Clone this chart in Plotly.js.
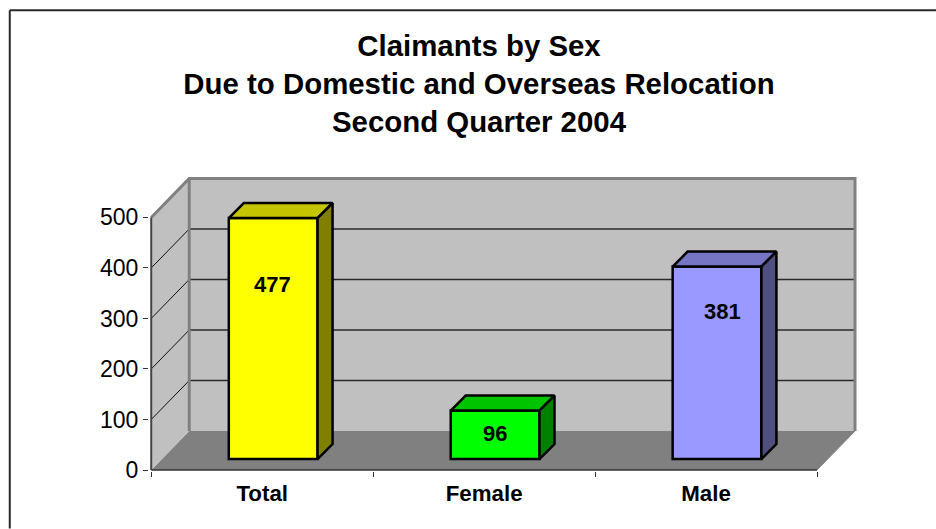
<!DOCTYPE html>
<html>
<head>
<meta charset="utf-8">
<script src="https://cdn.plot.ly/plotly-3.0.1.min.js"></script>
<style>html,body{margin:0;padding:0;background:#fff;overflow:hidden}#chart{width:936px;height:529px}</style>
</head>
<body>
<div id="chart"></div>
<script>
var categories = ["Total", "Female", "Male"];
var claimants = [477, 96, 381];
var frontColors = ["#ffff00", "#00ff00", "#9999ff"];
var topColors = ["#c4c400", "#00c400", "#7575c4"];
var sideColors = ["#808000", "#008000", "#4f4f80"];
var yTicks = [0, 100, 200, 300, 400, 500];
var titleLines = ["Claimants by Sex", "Due to Domestic and Overseas Relocation", "Second Quarter 2004"];
var labelHeights = [368, 72, 313];
var labelShifts = [0.548, 0.55, 0.574];

var W = 936, H = 529;
var PX_X = 222, PX_Y = 0.506;          // pixels per axis unit
var L = 151, R = 858, B = 470.5, T = 177;
var wallDX = 38 / PX_X, wallDY = 39 / PX_Y;
var insetDX = 11 / PX_X, insetDY = 11 / PX_Y;
var barDX = 15 / PX_X, barDY = 15 / PX_Y;
var barWidth = 0.4;
var yMax = yTicks[yTicks.length - 1], nCat = categories.length;
var FONT = "Liberation Sans, Arial, sans-serif";

function poly(pts, fill, line, w) {
  return {type: "path", xref: "x", yref: "y", layer: "below",
    path: "M" + pts.map(function (p) { return p[0] + "," + p[1]; }).join("L") + (fill ? "Z" : ""),
    fillcolor: fill || "rgba(0,0,0,0)", line: {color: line || "rgba(0,0,0,0)", width: w || 0}};
}
var shapes = [
  poly([[0, 0], [wallDX, wallDY], [nCat + wallDX, wallDY], [nCat, 0]], "#808080"),
  poly([[0, 0], [wallDX, wallDY], [wallDX, yMax + wallDY], [0, yMax]], "#c0c0c0"),
  poly([[wallDX, wallDY], [nCat + wallDX, wallDY], [nCat + wallDX, yMax + wallDY], [wallDX, yMax + wallDY]], "#c0c0c0")
];
yTicks.slice(1, -1).forEach(function (v) {
  shapes.push(poly([[wallDX, v + wallDY], [nCat + wallDX, v + wallDY]], null, "#2a2a2a", 1.4));
  shapes.push(poly([[0, v], [wallDX, v + wallDY]], null, "#111111", 1));
});
shapes.push(poly([[0, yMax], [wallDX, yMax + wallDY], [nCat + wallDX, yMax + wallDY], [nCat + wallDX, wallDY]], null, "#808080", 3));
shapes.push(poly([[wallDX, wallDY], [wallDX, yMax + wallDY]], null, "#808080", 3));
shapes.push(poly([[nCat, 0], [nCat + wallDX, wallDY]], null, "#808080", 1));
shapes.push(poly([[0, 0], [0, yMax]], null, "#444444", 2));
shapes.push(poly([[0, 0], [nCat, 0]], null, "#333333", 1.5));

var xRange = [(L - 151) / PX_X - 0.01, (R - 151) / PX_X];
var plotLeft = 151 + xRange[0] * PX_X;
function paperX(px) { return (px - plotLeft) / (R - plotLeft); }
function paperY(py) { return (B + 1 - py) / (B + 1 - T); }
// outer chart frame
[[9.5, 10, 936, 10], [9.5, 10, 9.5, 529]].forEach(function (s) {
  shapes.push({type: "line", xref: "paper", yref: "paper", x0: paperX(s[0]), y0: paperY(s[1]), x1: paperX(s[2]), y1: paperY(s[3]),
    line: {color: "#2a2a2a", width: 2}});
});

var centers = categories.map(function (c, i) { return i + 0.5 + insetDX; });
var traces = [{
  type: "bar", x: centers, y: claimants, base: insetDY, width: barWidth,
  marker: {color: frontColors, line: {color: "#000000", width: 2.5}},
  hoverinfo: "skip", showlegend: false
}];
claimants.forEach(function (v, i) {
  var x0 = centers[i] - barWidth / 2, x1 = centers[i] + barWidth / 2, y0 = insetDY, y1 = insetDY + v;
  traces.push({type: "scatter", mode: "lines", fill: "toself", fillcolor: topColors[i],
    x: [x0, x0 + barDX, x1 + barDX, x1, x0], y: [y1, y1 + barDY, y1 + barDY, y1, y1],
    line: {color: "#000000", width: 2.5}, hoverinfo: "skip", showlegend: false, cliponaxis: false});
  traces.push({type: "scatter", mode: "lines", fill: "toself", fillcolor: sideColors[i],
    x: [x1, x1 + barDX, x1 + barDX, x1, x1], y: [y0, y0 + barDY, y1 + barDY, y1, y0],
    line: {color: "#000000", width: 2.5}, hoverinfo: "skip", showlegend: false, cliponaxis: false});
});

var annotations = claimants.map(function (v, i) {
  return {x: i + labelShifts[i], y: labelHeights[i], xref: "x", yref: "y", showarrow: false,
    font: {family: FONT, size: 22, color: "#000"}, xanchor: "center", yanchor: "middle",
    text: "<b>" + v + "</b>"};
});

var layout = {
  width: W, height: H, autosize: false,
  paper_bgcolor: "#ffffff", plot_bgcolor: "#ffffff",
  margin: {l: plotLeft, r: W - R, t: T, b: H - B - 1, pad: 0},
  showlegend: false,
  title: {text: "<b>" + titleLines.join("<br>") + "</b>", x: 479 / W, xanchor: "center", y: 1 - 56 / H, yanchor: "top",
    font: {family: FONT, size: 29.4, color: "#000"}},
  xaxis: {range: xRange, showgrid: false, zeroline: false, showline: false,
    tickmode: "array", tickvals: categories.map(function (c, i) { return i + 0.5; }), ticktext: categories.map(function (c) { return "<b>" + c + "</b>"; }),
    ticks: "", ticklen: 0, ticklabelstandoff: 7, tickfont: {family: FONT, size: 22.3, color: "#000"},
    minor: {tickmode: "array", tickvals: [0, 1, 2, 3], ticks: "outside", ticklen: 5, tickwidth: 1, tickcolor: "#333333", showgrid: false}},
  yaxis: {range: [-1 / PX_Y, (B - T) / PX_Y], showgrid: false, zeroline: false, showline: false,
    tickmode: "array", tickvals: yTicks, ticks: "outside", ticklen: 5, tickwidth: 1, tickcolor: "#333333",
    ticklabelstandoff: 0, tickfont: {family: FONT, size: 23, color: "#000"}},
  shapes: shapes,
  annotations: annotations
};
Plotly.newPlot("chart", traces, layout, {displayModeBar: false, staticPlot: true});
</script>
</body>
</html>
